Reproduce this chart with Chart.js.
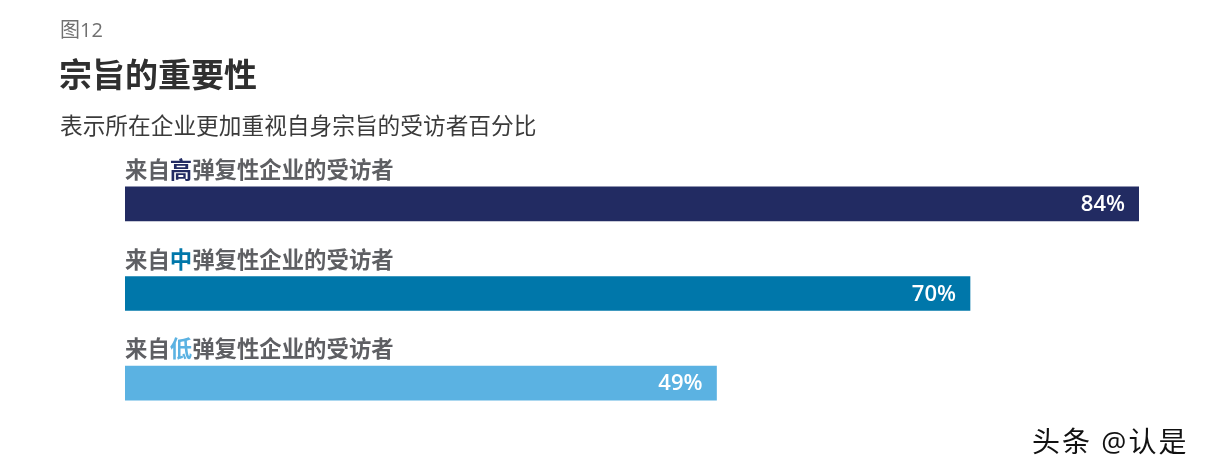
<!DOCTYPE html>
<html>
<head>
<meta charset="utf-8">
<script src="https://cdn.jsdelivr.net/npm/chart.js@4/dist/chart.umd.min.js"></script>
<style>
  html, body { margin: 0; padding: 0; background: #fff; }
  body { width: 1207px; height: 476px; position: relative; overflow: hidden;
         font-family: "Open Sans", "Noto Sans CJK SC", sans-serif; }
  .fig { position: absolute; left: 60px; top: 14px; font-size: 20px; color: #707070; }
  .title { position: absolute; left: 59px; top: 49px; font-size: 33px; font-weight: bold; color: #2f2f2f; }
  .sub { position: absolute; left: 60px; top: 108px; font-size: 22.7px; color: #3a3a3a; }
  .mark { position: absolute; left: 1032px; top: 420px; font-size: 28px; color: #111; letter-spacing: 2px; }
  #wrap { position: absolute; left: 0; top: 0; width: 1207px; height: 476px; }
</style>
</head>
<body>
<div id="wrap"><canvas id="chart"></canvas></div>
<div class="fig">图12</div>
<div class="title">宗旨的重要性</div>
<div class="sub">表示所在企业更加重视自身宗旨的受访者百分比</div>
<div class="mark">头条 @认是</div>
<script>
// Chart data
const labelPrefix = '来自';
const levels = ['高', '中', '低'];
const labelSuffix = '弹复性企业的受访者';
const categories = levels.map(l => labelPrefix + l + labelSuffix);
const values = [84, 70, 49];
const barColors = ['#222b62', '#0077aa', '#5bb2e2'];

/**
 * Category names above bars, the level word coloured like its bar
 */
const labelsAbove = {
    id: 'labelsAbove',
    afterDatasetsDraw(chart) {
        const ctx = chart.ctx;
        const meta = chart.getDatasetMeta(0);
        const labelFont = 'bold 22.4px "Noto Sans CJK SC", sans-serif';
        ctx.save();
        meta.data.forEach((bar, i) => {
            const top = bar.y - bar.height / 2;
            const y = top - 9;
            let x = chart.chartArea.left;
            const parts = [
                [labelPrefix, '#5e5f63'],
                [levels[i], barColors[i]],
                [labelSuffix, '#5e5f63']
            ];
            ctx.font = labelFont;
            ctx.textAlign = 'left';
            ctx.textBaseline = 'alphabetic';
            parts.forEach(([txt, col]) => {
                ctx.fillStyle = col;
                ctx.fillText(txt, x, y);
                x += ctx.measureText(txt).width;
            });

            // value inside the bar end
            ctx.font = '600 22px "Open Sans", sans-serif';
            ctx.fillStyle = '#ffffff';
            ctx.textAlign = 'right';
            ctx.textBaseline = 'middle';
            ctx.fillText(values[i] + '%', bar.x - 14, bar.y + 1);
        });
        ctx.restore();
    }
};

new Chart(document.getElementById('chart'), {
    type: 'bar',
    data: {
        labels: categories,
        datasets: [{
            data: values,
            backgroundColor: barColors,
            borderWidth: 0,
            barThickness: 34
        }]
    },
    options: {
        indexAxis: 'y',
        responsive: true,
        maintainAspectRatio: false,
        animation: false,
        layout: { padding: { left: 125, right: 68, top: 159, bottom: 48 } },
        plugins: {
            legend: { display: false },
            tooltip: { enabled: false }
        },
        scales: {
            x: { display: false, min: 0, max: 84 },
            y: { display: false }
        }
    },
    plugins: [labelsAbove]
});
</script>
</body>
</html>
